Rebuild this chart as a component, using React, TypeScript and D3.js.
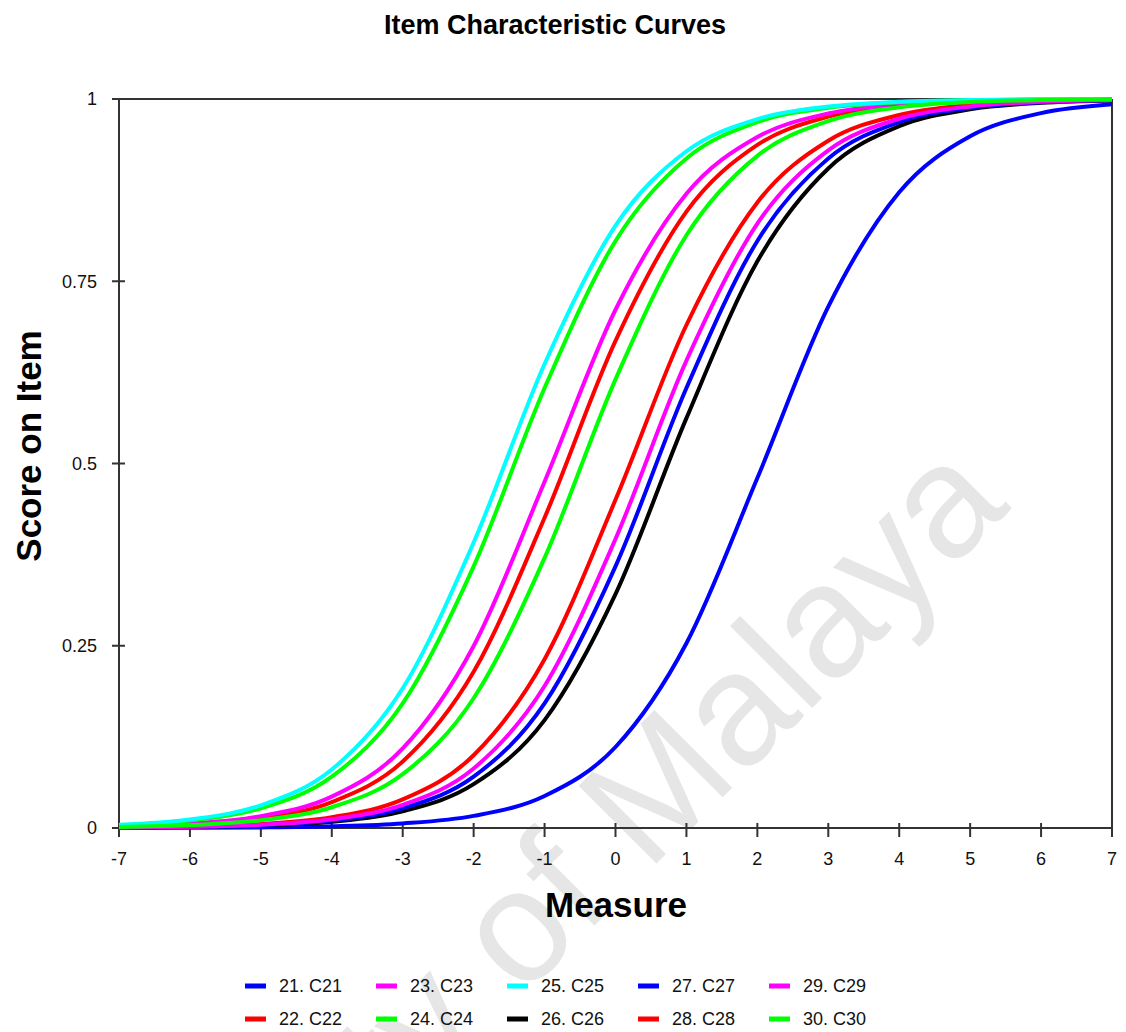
import React from "react";
import * as d3 from "d3";

// ---- data ----
const measures = [-7, -6, -5, -4, -3, -2, -1, 0, 1, 2, 3, 4, 5, 6, 7];
const xTicks = [-7, -6, -5, -4, -3, -2, -1, 0, 1, 2, 3, 4, 5, 6, 7];
const yTicks = [0, 0.25, 0.5, 0.75, 1];
const yTickLabels = ["0", "0.25", "0.5", "0.75", "1"];

const itemNames = ["21. C21", "22. C22", "23. C23", "24. C24", "25. C25", "26. C26", "27. C27", "28. C28", "29. C29", "30. C30"];

const c21 = [0.0001, 0.0003, 0.0008, 0.0023, 0.0062, 0.0166, 0.0439, 0.1111, 0.2535, 0.48, 0.7151, 0.8721, 0.9489, 0.9806, 0.9928];
const c22 = [0.0018, 0.005, 0.0134, 0.0356, 0.0911, 0.2142, 0.4256, 0.6682, 0.8455, 0.937, 0.9759, 0.991, 0.9967, 0.9988, 0.9995];
const c23 = [0.0022, 0.0061, 0.0163, 0.0431, 0.1091, 0.2497, 0.475, 0.7109, 0.8699, 0.9478, 0.9802, 0.9926, 0.9973, 0.999, 0.9996];
const c24 = [0.0038, 0.0102, 0.0271, 0.0704, 0.1708, 0.3589, 0.6035, 0.8053, 0.9184, 0.9683, 0.9881, 0.9956, 0.9984, 0.9994, 0.9998];
const c25 = [0.0043, 0.0117, 0.0311, 0.0802, 0.1915, 0.3917, 0.6365, 0.8264, 0.9283, 0.9724, 0.9896, 0.9962, 0.9986, 0.9995, 0.9998];
const c26 = [0.0004, 0.0012, 0.0032, 0.0086, 0.023, 0.0601, 0.148, 0.3208, 0.5622, 0.7773, 0.9047, 0.9627, 0.9859, 0.9948, 0.9981];
const c27 = [0.0005, 0.0014, 0.0038, 0.0102, 0.0271, 0.0704, 0.1708, 0.3589, 0.6035, 0.8053, 0.9184, 0.9683, 0.9881, 0.9956, 0.9984];
const c28 = [0.0007, 0.002, 0.0055, 0.0148, 0.0392, 0.0998, 0.2315, 0.4502, 0.69, 0.8581, 0.9427, 0.9781, 0.9918, 0.997, 0.9989];
const c29 = [0.0006, 0.0016, 0.0044, 0.012, 0.0317, 0.0816, 0.1947, 0.3965, 0.6411, 0.8292, 0.9296, 0.9729, 0.9898, 0.9962, 0.9986];
const c30 = [0.0015, 0.004, 0.0107, 0.0285, 0.0738, 0.178, 0.3705, 0.6154, 0.8131, 0.922, 0.9698, 0.9887, 0.9958, 0.9985, 0.9994];

const seriesValues = [c21, c22, c23, c24, c25, c26, c27, c28, c29, c30];
const seriesColors = ["#0000ff", "#ff0000", "#ff00ff", "#00ff00", "#00ffff", "#000000", "#0000ff", "#ff0000", "#ff00ff", "#00ff00"];

const W = 1126;
const H = 1032;
const FONT = "'Liberation Sans', Arial, sans-serif";

export default function App() {
  const x = d3.scaleLinear().domain([-7, 7]).range([119, 1112]);
  const y = d3.scaleLinear().domain([0, 1]).range([828, 99]);

  const line = d3
    .line<[number, number]>()
    .x((d) => x(d[0]))
    .y((d) => y(d[1]))
    .curve(d3.curveMonotoneX);

  const axisColor = "#333";

  return (
    <svg
      width={W}
      height={H}
      style={{ position: "absolute", left: 0, top: 0, background: "#fff" }}
      fontFamily={FONT}
    >
      <rect x={0} y={0} width={W} height={H} fill="#fff" />

      {/* watermark */}
      <text
        transform="translate(1012,508) rotate(-45)"
        textAnchor="end"
        fontSize={160}
        fill="#e6e6e6"
      >
        University of Malaya
      </text>

      {/* title */}
      <text x={555} y={34} textAnchor="middle" fontSize={27} fontWeight="bold" fill="#000">
        Item Characteristic Curves
      </text>

      {/* frame */}
      <line x1={x(-7)} x2={x(7)} y1={y(1)} y2={y(1)} stroke={axisColor} strokeWidth={2} />
      <line x1={x(7)} x2={x(7)} y1={y(1)} y2={y(0)} stroke={axisColor} strokeWidth={2} />
      <line x1={x(-7)} x2={x(-7)} y1={y(1)} y2={y(0)} stroke={axisColor} strokeWidth={2} />
      <line x1={x(-7) - 7} x2={x(7)} y1={y(0)} y2={y(0)} stroke={axisColor} strokeWidth={2} />

      {/* y ticks */}
      {yTicks.map((t, i) => (
        <g key={"yt" + i}>
          <line x1={x(-7) - 7} x2={x(-7) + (t === 1 ? 0 : 6)} y1={y(t)} y2={y(t)} stroke={axisColor} strokeWidth={2} />
          <text x={97} y={y(t)} dy="0.35em" textAnchor="end" fontSize={18} fill="#111">
            {yTickLabels[i]}
          </text>
        </g>
      ))}

      {/* x ticks */}
      {xTicks.map((t, i) => (
        <g key={"xt" + i}>
          <line x1={x(t)} x2={x(t)} y1={y(0) - 5} y2={y(0) + 9} stroke={axisColor} strokeWidth={2} />
          <text x={x(t)} y={865} textAnchor="middle" fontSize={18} fill="#111">
            {String(t)}
          </text>
        </g>
      ))}

      {/* curves */}
      {seriesValues.map((vals, i) => (
        <path
          key={"c" + i}
          d={line(measures.map((m, j) => [m, vals[j]] as [number, number])) || ""}
          fill="none"
          stroke={seriesColors[i]}
          strokeWidth={4}
        />
      ))}

      {/* axis titles */}
      <text x={616} y={917} textAnchor="middle" fontSize={35} fontWeight="bold" fill="#000">
        Measure
      </text>
      <text transform="translate(41,446) rotate(-90)" textAnchor="middle" fontSize={35} fontWeight="bold" fill="#000">
        Score on Item
      </text>

      {/* legend */}
      {itemNames.map((name, i) => {
        const col = Math.floor(i / 2);
        const row = i % 2;
        const lx = 245 + col * 131;
        const ly = 986 + row * 33;
        return (
          <g key={"lg" + i}>
            <rect x={lx} y={ly - 2.5} width={21} height={5} fill={seriesColors[i]} />
            <text x={lx + 34} y={ly} dy="0.36em" fontSize={18} fill="#111">
              {name}
            </text>
          </g>
        );
      })}
    </svg>
  );
}
